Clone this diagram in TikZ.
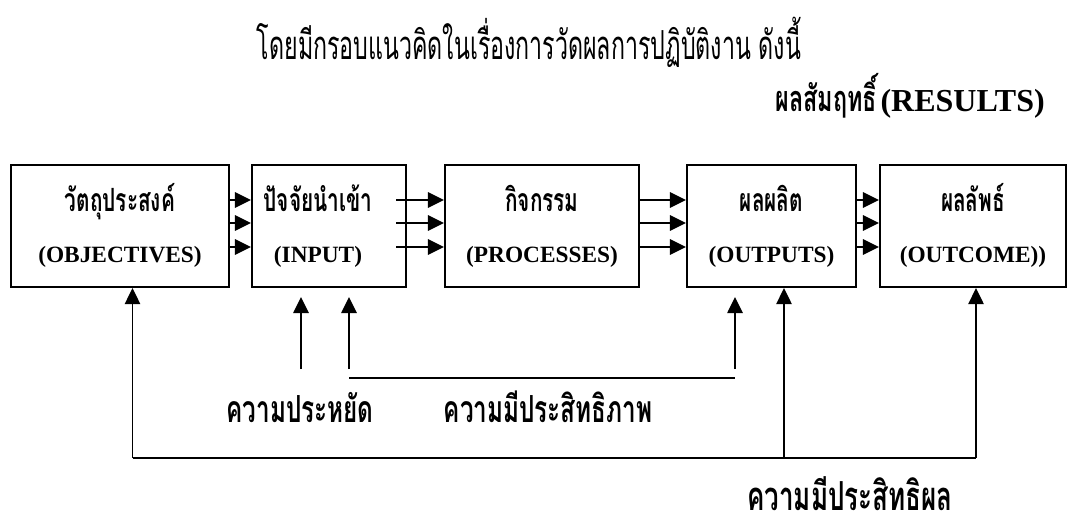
\documentclass[tikz,border=0pt]{standalone}
\usepackage{fontspec}
\setmainfont{Liberation Serif}
\newfontfamily\thai[Script=Thai,FakeStretch=0.65]{Loma}
\newfontfamily\thaititle[Script=Thai,FakeStretch=0.58]{Loma}
\usetikzlibrary{arrows.meta}
\begin{document}
\begin{tikzpicture}[x=0.75pt,y=-0.75pt,
  box/.style={draw,line width=1.6pt,minimum width=#1*0.75pt,minimum height=91.5pt,inner sep=0pt},
  flow/.style={line width=1.5pt,-{Triangle[length=12pt,width=11.5pt]}},
  fb/.style={line width=1.2pt,-{Triangle[length=12pt,width=11.5pt]}},
  ln/.style={line width=1.2pt},
  th/.style={font=\thai\bfseries\fontsize{24}{26}\selectfont,anchor=base},
  en/.style={font=\bfseries\fontsize{17.5}{19}\selectfont,anchor=base},
  lab/.style={font=\thai\bfseries\fontsize{28}{30}\selectfont,anchor=base}]
\useasboundingbox (0,0) rectangle (1069,527);
% title
\node[font=\thaititle\fontsize{30}{32}\selectfont,anchor=base] (title) at (529,60) {โดยมีกรอบแนวคิดในเรื่องการวัดผลการปฏิบัติงาน ดังนี้};
\node[anchor=base east,inner sep=0pt] (res) at (1045,112) {{\thai\bfseries\fontsize{27}{30}\selectfont ผลสัมฤทธิ์} {\bfseries\fontsize{24}{26}\selectfont (RESULTS)}};
% boxes
\node[box=218] (b1) at (120,226) {};
\node[box=154] (b2) at (329,226) {};
\node[box=194] (b3) at (542,226) {};
\node[box=169] (b4) at (771.5,226) {};
\node[box=186] (b5) at (973,226) {};
% texts
\node[th] (t1) at (120,212) {วัตถุประสงค์};
\node[en] (e1) at (120,262) {(OBJECTIVES)};
\node[th] (t2) at (318,212) {ปัจจัยนำเข้า};
\node[en] (e2) at (318,262) {(INPUT)};
\node[th] (t3) at (542,212) {กิจกรรม};
\node[en] (e3) at (542,262) {(PROCESSES)};
\node[th] (t4) at (771.5,212) {ผลผลิต};
\node[en] (e4) at (771.5,262) {(OUTPUTS)};
\node[th] (t5) at (973,212) {ผลลัพธ์};
\node[en] (e5) at (973,262) {(OUTCOME))};
% flow arrows
\foreach \y in {200,223,247}{
  \draw[flow] (b1.east |- 0,\y) -- (b2.west |- 0,\y);
  \draw[flow] (396,\y) -- (b3.west |- 0,\y);
  \draw[flow] (b3.east |- 0,\y) -- (b4.west |- 0,\y);
  \draw[flow] (b4.east |- 0,\y) -- (b5.west |- 0,\y);
}
% bottom feedback
\coordinate (L1) at (132.5,458);
\coordinate (L4) at (784,458);
\coordinate (L5) at (976,458);
\draw[ln] (L1) -- (L5);
\draw[fb] (L1) -- (L1 |- b1.south);
\draw[fb] (L4) -- (L4 |- b4.south);
\draw[fb] (L5) -- (L5 |- b5.south);
\coordinate (p1) at (301,369);
\coordinate (p2) at (349,369);
\coordinate (p3) at (735,369);
\draw[fb] (p1) -- (301,297);
\draw[fb] (p2) -- (349,297);
\draw[fb] (p3) -- (735,297);
\coordinate (h1) at (349,378);
\coordinate (h2) at (735,378);
\draw[ln] (h1) -- (h2);
% labels
\node[lab] (l1) at (300,422) {ความประหยัด};
\node[lab] (l2) at (548,422) {ความมีประสิทธิภาพ};
\node[lab,font=\thai\bfseries\fontsize{30}{32}\selectfont] (l3) at (850,510) {ความมีประสิทธิผล};
\end{tikzpicture}
\end{document}
